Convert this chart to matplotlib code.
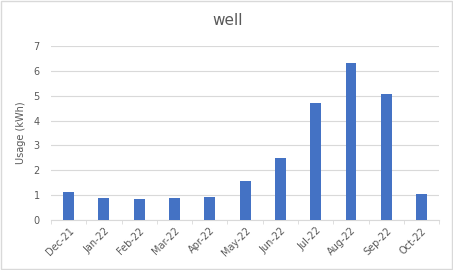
import matplotlib
matplotlib.use('Agg')
import matplotlib.pyplot as plt
import numpy as np

months = ['Dec-21', 'Jan-22', 'Feb-22', 'Mar-22', 'Apr-22', 'May-22',
          'Jun-22', 'Jul-22', 'Aug-22', 'Sep-22', 'Oct-22']
usage = [1.12, 0.90, 0.86, 0.90, 0.93, 1.58, 2.48, 4.70, 6.32, 5.05, 1.05]

text_color = '#595959'
grid_color = '#D9D9D9'

fig = plt.figure(figsize=(4.53, 2.70), dpi=100)
fig.patch.set_facecolor('white')
# light border round the chart area
fig.patches.append(plt.Rectangle((0.002, 0.004), 0.996, 0.992, transform=fig.transFigure,
                                 fill=False, edgecolor='#D9D9D9', linewidth=1.0))

ax = fig.add_axes([0.1126, 0.185, 0.857, 0.645])
x = np.arange(len(months))
ax.bar(x, usage, width=0.31, color='#4472C4', zorder=3)

ax.set_xlim(-0.5, len(months) - 0.5)
ax.set_ylim(0, 7)
ax.set_yticks(range(0, 8))
ax.yaxis.grid(True, color=grid_color, linewidth=0.8, zorder=0)
ax.set_xticks(x)
ax.set_xticklabels(months, rotation=45, ha='right', rotation_mode='anchor',
                   fontsize=7, color=text_color)
ax.tick_params(axis='y', length=0, labelsize=7, labelcolor=text_color, pad=8)
ax.tick_params(axis='x', length=0, pad=4)

# minor ticks between categories on the x axis line
ax.set_xticks(np.arange(-0.5, len(months), 1), minor=True)
ax.tick_params(axis='x', which='minor', length=3, color=grid_color)

for side in ['top', 'right', 'left']:
    ax.spines[side].set_visible(False)
ax.spines['bottom'].set_color(grid_color)

ax.set_ylabel('Usage (kWh)', fontsize=7, color=text_color)
ax.yaxis.set_label_coords(-0.065, 0.5)
fig.text(0.503, 0.925, 'well', ha='center', va='center', fontsize=11, color=text_color)

fig.savefig('out.png', dpi=100)
